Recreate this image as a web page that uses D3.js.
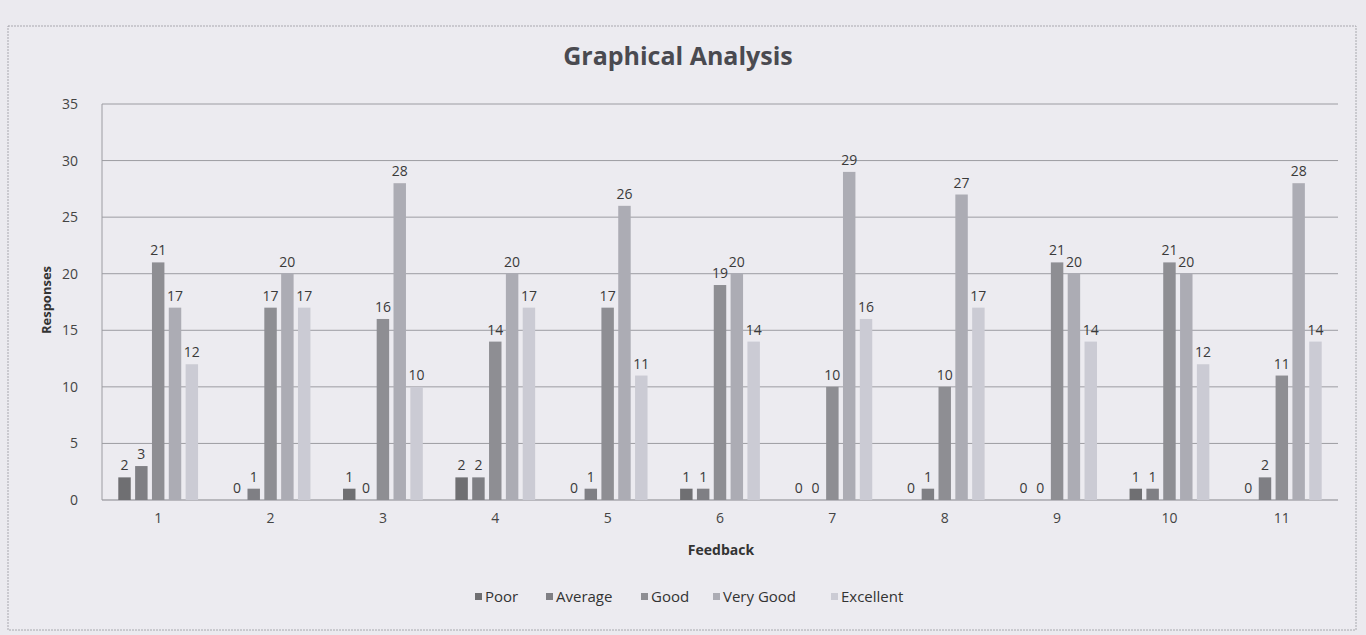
<!DOCTYPE html>
<html><head><meta charset="utf-8">
<script src="https://cdn.jsdelivr.net/npm/d3@7"></script>
<style>
body{margin:0;background:#ebeaef;}
svg{display:block;font-family:"Open Sans","Liberation Sans",sans-serif;}
</style></head><body>
<svg id="c" width="1366" height="635"></svg>
<script>
const categories = ["1","2","3","4","5","6","7","8","9","10","11"];
const seriesNames = ["Poor","Average","Good","Very Good","Excellent"];
const poor      = [2,0,1,2,0,1,0,0,0,1,0];
const average   = [3,1,0,2,1,1,0,1,0,1,2];
const good      = [21,17,16,14,17,19,10,10,21,21,11];
const veryGood  = [17,20,28,20,26,20,29,27,20,20,28];
const excellent = [12,17,10,17,11,14,16,17,14,12,14];
const yTicks = [0,5,10,15,20,25,30,35];
const colors = ["#6f6f72","#7f7f84","#8e8e93","#acacb4","#cbcbd4"];

const seriesVals = [poor, average, good, veryGood, excellent];
const data = categories.map((c,i)=>({cat:c, vals:seriesVals.map(s=>s[i])}));

const svg = d3.select("#c");
svg.append("rect").attr("x",8).attr("y",26).attr("width",1348).attr("height",604)
  .attr("fill","#ecebf0").attr("stroke","#a8a8ae").attr("stroke-width",1).attr("stroke-dasharray","2,1");

const m = {l:102, r:1338, t:104, b:500};
const x0 = d3.scaleBand().domain(categories).range([m.l,m.r]).paddingInner(0.29).paddingOuter(0.145);
const x1 = d3.scaleBand().domain(seriesNames).range([0,x0.bandwidth()]).paddingInner(0.26);
const y = d3.scaleLinear().domain([0,35]).range([m.b,m.t]);

// gridlines
svg.append("g").selectAll("line").data(yTicks).join("line")
  .attr("x1",m.l).attr("x2",m.r).attr("y1",d=>y(d)).attr("y2",d=>y(d))
  .attr("stroke",d=>d===0?"#85858b":"#9c9ca2").attr("stroke-width",1);
svg.append("line").attr("x1",m.l).attr("x2",m.l).attr("y1",m.t).attr("y2",m.b).attr("stroke","#9c9ca2");

// y axis
const ya = svg.append("g").attr("transform",`translate(${m.l},0)`)
  .call(d3.axisLeft(y).tickValues(yTicks).tickSize(0).tickPadding(24));
ya.select(".domain").remove();
ya.selectAll("text").attr("font-size",14).attr("fill","#444").attr("font-family","'Open Sans',sans-serif");

// x axis
const xa = svg.append("g").attr("transform",`translate(0,${m.b})`)
  .call(d3.axisBottom(x0).tickSize(0).tickPadding(13));
xa.select(".domain").remove();
xa.selectAll("text").attr("font-size",14).attr("fill","#444").attr("font-family","'Open Sans',sans-serif");

// bars
const g = svg.append("g").selectAll("g").data(data).join("g")
  .attr("transform",d=>`translate(${x0(d.cat)},0)`);
g.selectAll("rect").data(d=>d.vals.map((v,i)=>({s:seriesNames[i],v,i}))).join("rect")
  .attr("x",d=>x1(d.s)).attr("width",x1.bandwidth())
  .attr("y",d=>y(d.v)).attr("height",d=>m.b-y(d.v)).attr("fill",d=>colors[d.i]);
g.selectAll("text").data(d=>d.vals.map((v,i)=>({s:seriesNames[i],v,i}))).join("text")
  .attr("x",d=>x1(d.s)+x1.bandwidth()/2).attr("y",d=>y(d.v)-7)
  .attr("text-anchor","middle").attr("font-size",14).attr("fill","#3a3a3a")
  .text(d=>d.v);

// titles
svg.append("text").attr("x",678).attr("y",65).attr("text-anchor","middle")
  .attr("font-size",25).attr("font-weight","bold").attr("fill","#4a4a50").text("Graphical Analysis");
svg.append("text").attr("transform","translate(51,300) rotate(-90)").attr("text-anchor","middle")
  .attr("font-size",13).attr("font-weight","bold").attr("fill","#333").text("Responses");
svg.append("text").attr("x",721).attr("y",555).attr("text-anchor","middle")
  .attr("font-size",14).attr("font-weight","bold").attr("fill","#333").text("Feedback");

// legend
const legX = [484,555,650,722,840];
const lg = svg.append("g").selectAll("g").data(seriesNames).join("g")
  .attr("transform",(d,i)=>`translate(${legX[i]},602)`);
lg.append("rect").attr("x",-9).attr("y",-9).attr("width",7).attr("height",7).attr("fill",(d,i)=>colors[i]);
lg.append("text").attr("x",1).attr("y",0).attr("font-size",15).attr("fill","#333").text(d=>d);
</script>
</body></html>
